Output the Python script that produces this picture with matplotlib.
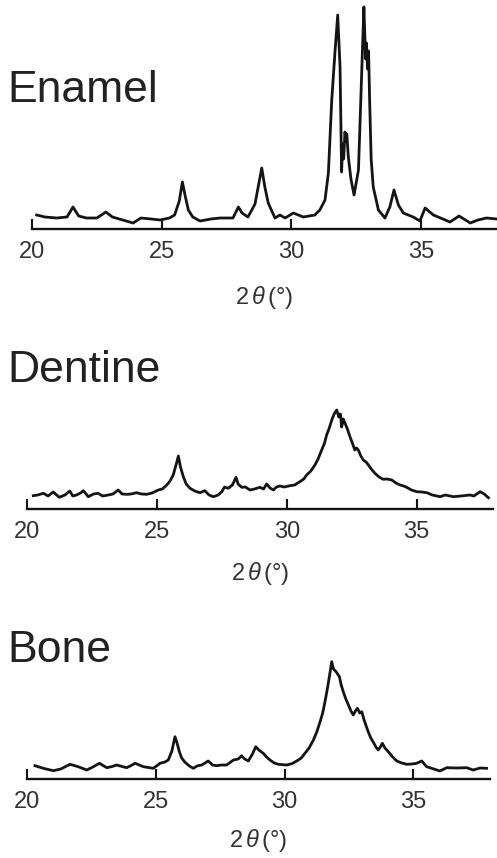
import matplotlib
matplotlib.use("Agg")
import matplotlib.pyplot as plt

plt.rcParams['font.family'] = ['Liberation Sans', 'DejaVu Sans']
plt.rcParams['mathtext.fontset'] = 'custom'
plt.rcParams['mathtext.rm'] = 'Liberation Sans'
plt.rcParams['mathtext.it'] = 'Liberation Sans:italic'

# ---------------- data (intensity in arbitrary units) -------------
tick_values = [20, 25, 30, 35]
tick_labels = ['20', '25', '30', '35']
xlabel_text = '2$\\,\\it{\\theta}\\,$(°)'
sample_names = ['Enamel', 'Dentine', 'Bone']

enamel_2theta = [20.18, 20.5, 20.95, 21.35, 21.58, 21.8, 22.1, 22.5, 22.85, 23.1, 23.5, 23.9,
                 24.2, 24.6, 24.94, 25.3, 25.5, 25.68, 25.8, 25.9, 26.03, 26.2, 26.48, 26.9,
                 27.25, 27.75, 27.96, 28.1, 28.33, 28.6, 28.86, 28.98, 29.11, 29.37, 29.56,
                 29.76, 30.08, 30.46, 30.91, 31.1, 31.3, 31.43, 31.56, 31.69, 31.79, 31.88,
                 31.94, 31.98, 32.02, 32.07, 32.11, 32.14, 32.2, 32.3, 32.42, 32.59, 32.68,
                 32.8, 32.84, 32.87, 32.9, 32.94, 32.98, 33.02, 33.08, 33.16, 33.36, 33.61,
                 33.8, 33.96, 34.13, 34.32, 34.7, 34.96, 35.16, 35.48, 36.12, 36.47, 36.9,
                 37.2, 37.53, 37.92]
enamel_int = [14, 12, 11, 12, 22, 13, 11, 11, 17, 12, 9, 6,
              11, 10, 9, 11, 14, 28, 47, 34, 19, 12, 8, 10,
              11, 11, 22, 16, 12, 25, 61, 42, 26, 11, 14,
              11, 16, 12, 14, 19, 29, 56, 129, 179, 214, 162,
              57, 85, 70, 97, 88, 95, 72, 50, 34, 59, 129,
              222, 190, 170, 186, 160, 178, 130, 70, 42, 19, 11,
              22, 39, 24, 16, 12, 8, 21, 14, 7, 13, 6,
              9, 11, 10]

dentine_2theta = [20.23, 20.4, 20.62, 20.8, 21.0, 21.23, 21.45, 21.64, 21.75, 21.9, 22.05,
                  22.16, 22.35, 22.55, 22.73, 22.9, 23.12, 23.3, 23.5, 23.65, 23.83, 24.0,
                  24.21, 24.4, 24.6, 24.8, 25.05, 25.2, 25.37, 25.5, 25.62, 25.73, 25.82,
                  25.9, 26.01, 26.12, 26.27, 26.45, 26.65, 26.84, 27.0, 27.17, 27.35, 27.49,
                  27.6, 27.74, 27.9, 28.04, 28.12, 28.26, 28.4, 28.58, 28.75, 28.96, 29.1,
                  29.22, 29.35, 29.48, 29.6, 29.73, 29.9, 30.12, 30.3, 30.5, 30.65, 30.76,
                  30.92, 31.08, 31.2, 31.34, 31.45, 31.53, 31.62, 31.73, 31.82, 31.92, 32.0,
                  32.06, 32.11, 32.17, 32.24, 32.33, 32.43, 32.52, 32.62, 32.68, 32.75,
                  32.85, 32.94, 33.05, 33.14, 33.25, 33.39, 33.55, 33.71, 33.85, 34.04,
                  34.2, 34.36, 34.5, 34.61, 34.8, 35.0, 35.2, 35.39, 35.6, 35.9, 36.1,
                  36.41, 36.7, 37.05, 37.2, 37.44, 37.6, 37.76]
dentine_int = [13.3, 14, 15.7, 13, 17, 11.7, 14, 18, 13, 14, 16,
               18.3, 12.3, 15, 15.7, 13, 14, 15, 19, 15, 14.7, 15,
               16.3, 15, 14.7, 16, 19, 20, 24, 28, 34, 44, 53,
               42, 32.3, 25, 20.7, 18, 16.3, 18.3, 14, 12.3, 14, 17.3,
               22, 20.7, 24, 31.7, 25, 21.7, 22, 19, 20, 21.7, 20,
               25, 21, 19, 22, 23, 22, 23.3, 24, 27.3, 30, 34,
               38, 44, 50, 59, 66, 74, 80, 89, 95, 99, 92,
               95, 82, 90, 85.7, 80, 72.3, 66, 59, 61, 59,
               53, 49, 47, 44, 40, 35.7, 32, 29.7, 30, 29,
               26, 24, 23, 21.7, 19, 17.3, 17, 16.3, 14, 12.3, 14,
               12.3, 13, 14, 13, 17.3, 15, 11.3]

bone_2theta = [20.3, 20.62, 21.01, 21.3, 21.66, 21.98, 22.31, 22.55, 22.8, 23.09, 23.3,
               23.47, 23.86, 24.0, 24.19, 24.51, 24.9, 25.16, 25.35, 25.48, 25.62, 25.74,
               25.82, 25.91, 26.0, 26.13, 26.3, 26.45, 26.6, 26.78, 27.03, 27.2, 27.36,
               27.55, 27.75, 28.01, 28.2, 28.33, 28.45, 28.59, 28.75, 28.88, 29.0, 29.17,
               29.3, 29.43, 29.6, 29.76, 30.08, 30.3, 30.47, 30.65, 30.79, 30.95, 31.12,
               31.25, 31.38, 31.48, 31.57, 31.66, 31.74, 31.83, 31.9, 32.0, 32.13, 32.2,
               32.28, 32.38, 32.48, 32.58, 32.67, 32.75, 32.83, 32.92, 33.0, 33.09, 33.17,
               33.25, 33.35, 33.45, 33.55, 33.64, 33.72, 33.8, 33.9, 34.03, 34.2, 34.36,
               34.55, 34.75, 34.95, 35.13, 35.33, 35.52, 35.8, 36.04, 36.3, 36.7, 37.08,
               37.33, 37.6, 37.85]
bone_int = [13.3, 10.7, 8.3, 10, 14.7, 12.3, 9, 12, 15.7, 11.3, 12.5,
            14, 11.3, 13, 15.7, 12.3, 10.7, 15.7, 17, 19, 28, 42.3,
            36, 27.3, 21, 16.7, 13, 10.7, 13, 14, 18, 14, 13.3,
            14, 14, 19, 20, 23.3, 20, 18, 25, 32.3, 29, 25.7,
            22, 19, 16, 14.7, 14, 15.5, 18, 21, 25.7, 31, 39,
            47, 57.3, 66, 77.3, 90, 102.3, 117.3, 110, 107.3, 102.3, 94,
            87.3, 80, 74, 68, 64, 68, 70.7, 66, 67.3, 59, 53,
            47.3, 41, 36.7, 32, 29, 32, 35.7, 31, 27.3, 22, 18,
            16, 14.7, 15, 15.7, 18, 12.3, 10, 8, 11.3, 11, 11.3,
            9, 11, 10.7]

# ---------------- layout (pixels of the 497x858 canvas) ----------------
W, H = 497, 858
fig = plt.figure(figsize=(W / 100, H / 100), dpi=100)
fig.patch.set_facecolor('white')

# (x of 20 deg, px per degree, right end of axis in deg, axis-line y, panel height,
#  title baseline y, xlabel pad)
layouts = [
    (32.0, 25.93, 37.93, 229, 224, 102, 15),
    (27.3, 25.96, 37.94, 509, 104, 382, 12),
    (27.3, 25.73, 37.98, 779, 124, 662, 10),
]
series = [(enamel_2theta, enamel_int), (dentine_2theta, dentine_int), (bone_2theta, bone_int)]

ink = '#141414'
for name, (xs, ys), (x0, sc, xmax, ay, ph, tb, lp) in zip(sample_names, series, layouts):
    ax = fig.add_axes([x0 / W, 1 - ay / H, (xmax - 20) * sc / W, ph / H])
    ax.plot(xs, ys, color=ink, lw=2.0, solid_joinstyle='round', clip_on=False)
    ax.set_xlim(20, xmax)
    ax.set_ylim(0, ph)
    for s in ('left', 'right', 'top'):
        ax.spines[s].set_visible(False)
    ax.spines['bottom'].set_linewidth(1.7)
    ax.spines['bottom'].set_color(ink)
    ax.set_yticks([])
    ax.set_xticks(tick_values)
    ax.set_xticklabels(tick_labels)
    ax.tick_params(axis='x', direction='in', length=7, width=1.5, color=ink,
                   pad=9, labelsize=17, labelcolor='#333333')
    ax.set_xlabel(xlabel_text, fontsize=17, color='#333333', labelpad=lp)
    ax.patch.set_alpha(0)
    fig.text(7 / W, 1 - tb / H, name, fontsize=32, color='#222222', va='baseline', ha='left')

fig.savefig('out.png', dpi=100, facecolor='white')
